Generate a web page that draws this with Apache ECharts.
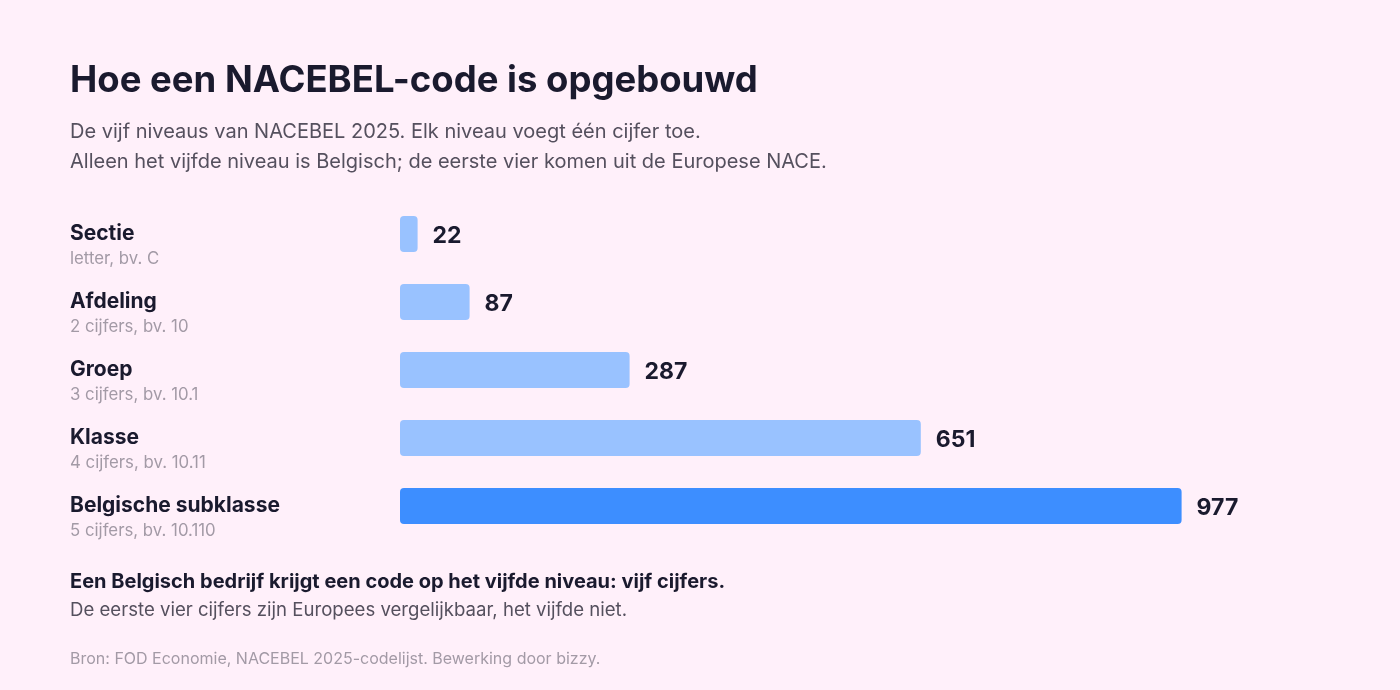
<!DOCTYPE html>
<html>
<head>
<meta charset="utf-8">
<script src="https://cdn.jsdelivr.net/npm/echarts@6/dist/echarts.min.js"></script>
<style>
  html, body { margin: 0; padding: 0; background: #fff0fa; }
  #chartmain { width: 1400px; height: 690px; }
</style>
</head>
<body>
<div id="chartmain"></div>
<script>
var levels = ['Sectie', 'Afdeling', 'Groep', 'Klasse', 'Belgische subklasse'],
    level_notes = ['letter, bv. C', '2 cijfers, bv. 10', '3 cijfers, bv. 10.1', '4 cijfers, bv. 10.11', '5 cijfers, bv. 10.110'],
    code_counts = [22, 87, 287, 651, 977],
    highlight_index = 4;

var font = 'Inter, "Noto Sans", sans-serif';
var dark = '#1a1a2e';

var option = {
    backgroundColor: '#fff0fa',
    textStyle: { fontFamily: font },
    title: [{
        text: 'Hoe een NACEBEL-code is opgebouwd',
        left: 65, top: 58,
        textStyle: { fontFamily: font, fontSize: 36.5, fontWeight: 'bold', color: dark }
    }, {
        text: 'De vijf niveaus van NACEBEL 2025. Elk niveau voegt één cijfer toe.\nAlleen het vijfde niveau is Belgisch; de eerste vier komen uit de Europese NACE.',
        left: 65, top: 112,
        textStyle: { fontFamily: font, fontSize: 20, fontWeight: 'normal', color: '#55505e', lineHeight: 30 }
    }, {
        text: 'Een Belgisch bedrijf krijgt een code op het vijfde niveau: vijf cijfers.',
        left: 65, top: 567,
        textStyle: { fontFamily: font, fontSize: 20, fontWeight: 'bold', color: dark }
    }, {
        text: 'De eerste vier cijfers zijn Europees vergelijkbaar, het vijfde niet.',
        left: 65, top: 596,
        textStyle: { fontFamily: font, fontSize: 18.6, fontWeight: 'normal', color: '#55505e' }
    }, {
        text: 'Bron: FOD Economie, NACEBEL 2025-codelijst. Bewerking door bizzy.',
        left: 65, top: 646,
        textStyle: { fontFamily: font, fontSize: 16, fontWeight: 'normal', color: '#a39aa6' }
    }],
    grid: { left: 400, top: 200, width: 800, height: 340 },
    xAxis: {
        type: 'value',
        min: 0,
        max: 1000,
        show: false
    },
    yAxis: {
        type: 'category',
        inverse: true,
        data: levels,
        axisLine: { show: false },
        axisTick: { show: false },
        splitLine: { show: false },
        axisLabel: {
            margin: 330,
            align: 'left',
            padding: [24, 0, 0, 0],
            formatter: function (value, idx) {
                return '{name|' + value + '}\n{note|' + level_notes[idx] + '}';
            },
            rich: {
                name: { fontFamily: font, fontSize: 21, fontWeight: 'bold', color: dark, lineHeight: 26 },
                note: { fontFamily: font, fontSize: 16.8, color: '#a39aa6', lineHeight: 24 }
            }
        }
    },
    series: [{
        type: 'bar',
        data: code_counts.map(function (v, i) {
            return {
                value: v,
                itemStyle: { color: i === highlight_index ? '#3d8eff' : '#99c2ff' }
            };
        }),
        barWidth: 36,
        itemStyle: { borderRadius: 4 },
        label: {
            show: true,
            position: 'right',
            distance: 15,
            offset: [0, 2],
            fontFamily: font,
            fontSize: 23,
            fontWeight: 'bold',
            color: dark
        },
        silent: true,
        animation: false
    }]
};

var myChart = echarts.init(document.getElementById('chartmain'));
myChart.setOption(option);
</script>
</body>
</html>
